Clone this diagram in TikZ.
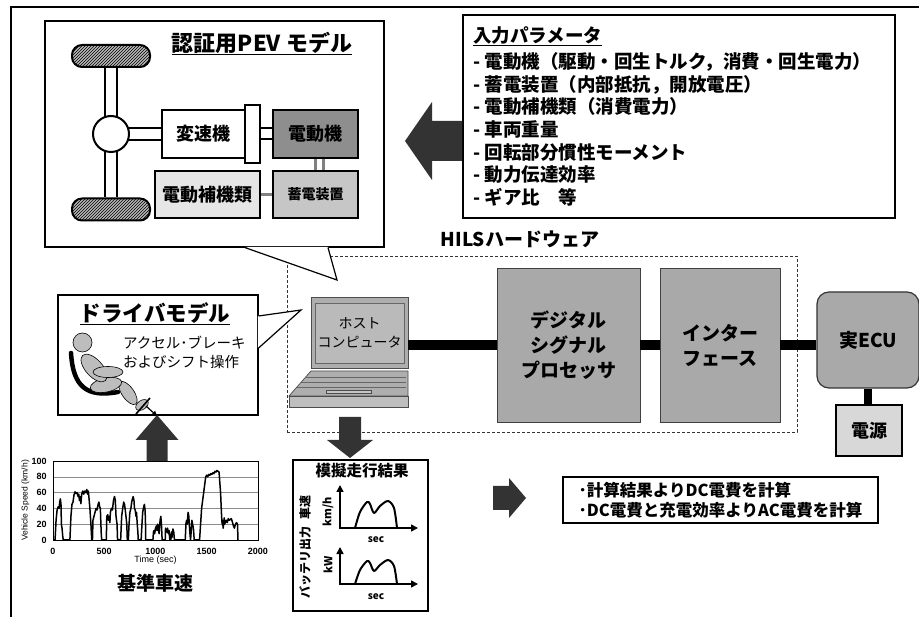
\documentclass[tikz,border=0pt]{standalone}
\usepackage{fontspec}
\setmainfont{Noto Sans CJK JP}
\newfontfamily\arialfont{Liberation Sans}
\usetikzlibrary{positioning,patterns,arrows.meta,calc}

\definecolor{hwgray}{HTML}{A9A9A9}
\definecolor{motorgray}{HTML}{8E8E8E}
\definecolor{battgray}{HTML}{C6C6C6}
\definecolor{auxgray}{HTML}{E6E6E6}
\definecolor{srcgray}{HTML}{D8D8D8}
\definecolor{pcgray}{HTML}{AEAEAE}
\definecolor{bodygray}{HTML}{BDBDBD}

\newcommand\fsz[2]{\fontsize{#1}{#2}\selectfont}
% block arrow: tip, direction, length, head width, shaft width, head length
\newcommand\bigarrow[6]{%
  \fill[black!80, shift={(#1)}, rotate=#2]
    (0,0) -- (-#6,0.5*#4) -- (-#6,0.5*#5) -- (-#3,0.5*#5) -- (-#3,-0.5*#5)
    -- (-#6,-0.5*#5) -- (-#6,-0.5*#4) -- cycle;}

\tikzset{
  panel/.style      = {rectangle, draw=black, line width=1.2pt, fill=white, inner sep=0pt},
  part/.style       = {rectangle, draw=black, line width=2.4pt, inner sep=0pt,
                       font=\fsz{18}{21}\bfseries},
  hw/.style         = {rectangle, draw=black!75, line width=0.8pt, fill=hwgray,
                       align=center, inner sep=0pt, font=\fsz{19}{25}\bfseries},
  wheel/.style      = {rectangle, rounded corners=10pt, draw=black, line width=2pt,
                       fill=gray!55, postaction={pattern=north east lines},
                       minimum width=78pt, minimum height=22pt, inner sep=0pt},
  shaft/.style      = {draw=black, line width=2pt},
  bus/.style        = {line width=10pt, black},
  limb/.style       = {draw=black, line width=0.6pt, fill=bodygray},
  axisline/.style   = {line width=1.6pt,
                       {Triangle[length=7pt,width=7pt]}-{Triangle[length=7pt,width=7pt]}},
  curve/.style      = {line width=2pt, line join=round},
  tick/.style       = {font=\arialfont\fsz{9}{10}\bfseries, inner sep=0pt},
}

\begin{document}
\begin{tikzpicture}[x=1pt, y=-1pt]
  \useasboundingbox (0,0) rectangle (919,617);
  \draw[line width=1.5pt] (919,7) -- (11,7) -- (11,617);

  % HILS group first, the callout tails lie over it
  \node[rectangle, draw=black!80, line width=0.9pt, dash pattern=on 3pt off 2pt,
        minimum width=510pt, minimum height=176pt] (hils) at (542,344) {};
  \node[font=\fsz{19}{21}\bfseries, inner sep=0pt] (hilstitle) at (520,239) {HILSハードウェア};

  % ---- PEV model callout ----
  \node[panel, minimum width=339pt, minimum height=226pt] (pev) at (214.5,134) {};
  \coordinate (pevtip) at (337,280);
  \path ([xshift=30.5pt]pev.south) coordinate (pevA) ([xshift=113.5pt]pev.south) coordinate (pevB);
  \fill[white] ([yshift=0.8pt]pevA) -- (pevtip) -- ([yshift=0.8pt]pevB) -- cycle;
  \draw[line width=1.2pt] (pevA) -- (pevtip) -- (pevB);

  \node[font=\fsz{22}{24}\bfseries, inner sep=0pt] (pevtitle) at (262,43) {認証用PEV モデル};
  \draw[line width=1.3pt] ([yshift=-3pt]pevtitle.base west) -- ([yshift=-3pt]pevtitle.base east);

  \node[wheel] (wheelF) at (111,56) {};
  \node[wheel] (wheelR) at (111,209.5) {};
  \node[circle, draw=black, line width=2pt, fill=white, minimum size=36pt,
        inner sep=0pt, outer sep=0pt] (diff) at (111,134) {};

  \node[part, fill=white, minimum width=83pt, minimum height=48pt] (trans) at (203.5,134) {変速機};
  \node[part, fill=white, line width=2pt, minimum width=15pt, minimum height=58pt] (clutch) at (252.5,134) {};
  \node[part, fill=motorgray, minimum width=85pt, minimum height=48pt] (motor) at (315.5,134) {電動機};
  \node[part, fill=auxgray, minimum width=105pt, minimum height=47pt] (aux) at (207.5,194.5) {電動補機類};
  \node[part, fill=battgray, minimum width=85pt, minimum height=47pt,
        font=\fsz{14}{16}\bfseries] (batt) at (315.5,194.5) {蓄電装置};

  % axles and shafts
  \draw[shaft] (diff.111 |- wheelF.south) -- (diff.111);
  \draw[shaft] (diff.69 |- wheelF.south) -- (diff.69);
  \draw[shaft] (diff.249) -- (diff.249 |- wheelR.north);
  \draw[shaft] (diff.291) -- (diff.291 |- wheelR.north);
  \draw[shaft] (diff.18) -- (diff.18 -| trans.west);
  \draw[shaft] (diff.-18) -- (diff.-18 -| trans.west);
  \draw[shaft] ([yshift=5.5pt]clutch.east) -- ([yshift=5.5pt]motor.west);
  \draw[shaft] ([yshift=-5.5pt]clutch.east) -- ([yshift=-5.5pt]motor.west);
  % electric links
  \draw[gray, line width=3pt] (aux.east) -- (batt.west);
  \draw[gray, line width=3pt] ([xshift=-0.5pt]motor.south) -- ([xshift=-0.5pt]batt.north);
  \draw[gray, line width=3pt] ([xshift=7.5pt]motor.south) -- ([xshift=7.5pt]batt.north);

  % ---- input parameters ----
  \node[panel, minimum width=432pt, minimum height=203pt] (param) at (679,116.5) {};
  \node[anchor=north west, inner sep=0pt, align=left, font=\fsz{18.5}{22.6}\bfseries] (paramtext) at (473,26)
    {\underline{入力パラメータ}\\[4pt]
     - 電動機（駆動・回生トルク，消費・回生電力）\\
     - 蓄電装置（内部抵抗，開放電圧）\\
     - 電動補機類（消費電力）\\
     - 車両重量\\
     - 回転部分慣性モーメント\\
     - 動力伝達効率\\
     - ギア比　等};
  \coordinate (paramarrow) at (405,141);
  \bigarrow{paramarrow}{180}{57}{78}{40}{27}

  % ---- driver model callout ----
  \node[panel, minimum width=200pt, minimum height=120pt] (driver) at (158,355) {};
  \coordinate (drvtip) at (301,310);
  \path ([yshift=39pt]driver.east) coordinate (drvA) ([yshift=7pt]driver.east) coordinate (drvB);
  \fill[white] ([xshift=-0.8pt]drvA) -- (drvtip) -- ([xshift=-0.8pt]drvB) -- cycle;
  \draw[line width=1.2pt] (drvA) -- (drvtip) -- (drvB);
  \node[font=\fsz{21.5}{23}\bfseries, inner sep=0pt] (drvtitle) at (155,313) {ドライバモデル};
  \draw[line width=1.3pt] ([yshift=-3pt]drvtitle.base west) -- ([yshift=-3pt]drvtitle.base east);
  \node[anchor=west, align=left, inner sep=0pt, font=\fsz{14.5}{19}] (drvtext) at (123,352)
    {アクセル･ブレーキ\\およびシフト操作};

  % seated driver
  \draw[line width=4.5pt, line cap=round] (71,353) .. controls (73,386) and (86,398) .. (118,392);
  \draw[limb] (128,393) ellipse [x radius=13.5, y radius=6, rotate=-55];
  \draw[limb] (142,405) ellipse [x radius=7, y radius=4.5, rotate=35];
  \draw[limb] (106,385) ellipse [x radius=16, y radius=7, rotate=12];
  \draw[limb] (94,368) ellipse [x radius=17, y radius=8.5, rotate=-48];
  \draw[limb] (108,372) ellipse [x radius=15, y radius=5.5];
  \draw[limb] (82.5,342.5) circle [radius=9.5];
  \draw[line width=1.6pt] (136,414) -- (150,398);
  \draw[line width=1.2pt, -{Triangle[length=5pt,width=5pt]}] (146,406) -- (157,416);

  % ---- host computer ----
  \fill[pcgray, draw=black!70, line width=0.7pt] (311,371) -- (408,371) -- (408,396) -- (289,396) -- cycle;
  \draw[fill=pcgray!80!white, draw=black!70, line width=0.7pt] (289,396) rectangle (408,407);
  \foreach \yy in {377,382,387}
    \draw[black!60, line width=0.6pt] ({311-22*(\yy-371)/25},\yy) -- (406,\yy);
  \draw[black!70, fill=pcgray!70!white, line width=0.6pt] (326,390) rectangle (371,393.5);
  \node[rectangle, draw=black!70, line width=0.8pt, fill=pcgray,
        minimum width=97pt, minimum height=71pt] (host) at (359.5,332.5) {};
  \node[rectangle, draw=black!60, line width=0.6pt, fill=pcgray!85!white, minimum width=89pt,
        minimum height=60pt, align=center, inner sep=0pt, font=\fsz{14}{19}] (hostscreen)
        at (359.5,333) {ホスト\\コンピュータ};

  % ---- HILS hardware ----
  \node[hw, minimum width=143pt, minimum height=154pt] (dsp) at (568.5,345) {デジタル\\シグナル\\プロセッサ};
  \node[hw, minimum width=120pt, minimum height=154pt] (iface) at (720,345) {インター\\フェース};
  \node[hw, rounded corners=12pt, draw=black!80, line width=1.2pt,
        minimum width=102pt, minimum height=96pt] (ecu) at (868,340) {実ECU};
  \node[rectangle, draw=black, line width=2.6pt, fill=srcgray, minimum width=66pt,
        minimum height=51pt, font=\fsz{18}{20}\bfseries] (power) at (869,430.5) {電源};
  \draw[bus] (dsp.west -| host.east) -- (dsp.west);
  \draw[bus] (dsp.east) -- (iface.west);
  \draw[bus] (iface.east) -- (iface.east -| ecu.west);
  \draw[line width=8pt] (ecu.south) -- (ecu.south |- power.north);

  \coordinate (hostarrow) at (350,458);
  \bigarrow{hostarrow}{270}{41}{46}{22}{18}

  % ---- reference drive cycle ----
  \coordinate (cyclearrow) at (157,415);
  \bigarrow{cyclearrow}{90}{46}{43}{21}{25}
  \begin{scope}[shift={(53,540)}, x=0.1025pt, y=0.79pt]
    \foreach \v in {20,40,...,100}
      \draw[black!45, line width=0.5pt] (0,\v) -- (2000,\v);
    \draw[line width=0.8pt] (0,0) rectangle (2000,100);
    \foreach \v in {0,20,...,100}
      \node[tick, anchor=east] (ylab\v) at (-60,\v) {\v};
    \foreach \t in {0,500,...,2000}
      \node[tick] (xlab\t) at (\t,-15) {\t};
    \node[font=\arialfont\fsz{9}{10}, inner sep=0pt] (xname) at (1000,-26) {Time (sec)};
    \node[font=\arialfont\fsz{8.5}{9}, inner sep=0pt, rotate=90] (yname) at (-270,50) {Vehicle Speed (km/h)};
    \draw[line width=1.5pt, line join=round] plot coordinates {
      (0,0)(20,0)(30,25)(40,38)(50,42)(60,40)(65,48)(72,52)(78,45)(82,20)(88,15)(95,5)(100,0)
      (165,0)(175,30)(185,45)(195,48)(205,57)(215,61)(225,59)(235,60)(245,55)(252,58)(258,50)
      (265,55)(272,46)(280,58)(290,62)(300,58)(310,62)(320,60)(330,64)(338,58)(345,62)(352,52)
      (360,40)(370,20)(378,0)(385,0)(390,25)(400,30)(410,35)(420,40)(430,38)(440,45)(448,48)
      (455,42)(462,40)(470,10)(475,0)(520,0)(525,30)(535,32)(540,25)(550,30)(555,22)(560,35)
      (570,40)(580,38)(590,50)(600,55)(608,50)(615,30)(625,20)(630,0)(660,0)(670,30)(680,40)
      (690,48)(698,45)(705,38)(712,30)(720,20)(725,0)(735,0)(742,20)(750,35)(760,40)(768,48)
      (775,52)(782,55)(790,50)(795,40)(802,38)(810,30)(815,35)(822,20)(828,10)(832,0)(860,0)
      (868,20)(875,35)(885,42)(892,45)(898,38)(902,25)(905,0)(975,0)(980,10)(985,12)(992,8)
      (1000,15)(1010,18)(1015,12)(1022,20)(1028,15)(1035,8)(1045,25)(1052,30)(1058,20)(1065,0)
      (1095,0)(1098,15)(1105,12)(1112,10)(1118,15)(1125,8)(1132,12)(1140,0)(1150,0)(1155,10)
      (1160,3)(1170,14)(1178,10)(1185,0)(1290,0)(1298,22)(1305,25)(1310,20)(1318,35)(1325,30)
      (1330,20)(1335,10)(1342,0)(1348,10)(1355,25)(1362,20)(1370,15)(1378,0)(1430,0)(1440,20)
      (1450,40)(1465,55)(1480,70)(1490,80)(1500,82)(1510,80)(1520,83)(1530,82)(1540,84)(1550,83)
      (1560,85)(1570,84)(1580,87)(1590,86)(1600,88)(1610,87)(1620,86)(1635,60)(1645,30)(1650,20)
      (1655,25)(1660,15)(1665,20)(1670,28)(1675,20)(1680,22)(1690,25)(1700,22)(1710,27)(1720,25)
      (1730,26)(1740,27)(1750,23)(1760,18)(1770,15)(1780,20)(1790,22)(1800,20)(1805,0)};
    \node[font=\fsz{19}{21}\bfseries, inner sep=0pt] (cyclename) at (1000,-55) {基準車速};
  \end{scope}

  % ---- simulated run results ----
  \node[panel, minimum width=135pt, minimum height=151pt] (result) at (360.5,535.5) {};
  \node[font=\fsz{15.5}{18}\bfseries, inner sep=0pt] (resulttitle) at (362,471) {模擬走行結果};
  \begin{scope}[shift={(340,528)}]
    \draw[axisline] (0,-43) -- (0,0) -- (78,0);
    \draw[curve] plot[smooth] coordinates {(15,0) (20,-16) (27,-26) (30,-24) (34,-15) (40,-22) (48,-27) (54,-20) (57,0)};
    \node[font=\fsz{10}{12}\bfseries, inner sep=0pt] (secA) at (36,12) {sec};
    \node[font=\fsz{11}{12}\bfseries, inner sep=0pt, rotate=90] (unitA) at (-12,-16) {km/h};
    \node[font=\fsz{12}{13}\bfseries, inner sep=0pt, rotate=90] (nameA) at (-35,-21) {車速};
  \end{scope}
  \begin{scope}[shift={(340,584)}]
    \draw[axisline] (0,-37) -- (0,0) -- (78,0);
    \draw[curve] plot[smooth] coordinates {(15,0) (20,-14) (27,-23) (30,-21) (34,-13) (40,-19) (48,-24) (54,-18) (57,0)};
    \node[font=\fsz{10}{12}\bfseries, inner sep=0pt] (secB) at (36,13) {sec};
    \node[font=\fsz{11}{12}\bfseries, inner sep=0pt, rotate=90] (unitB) at (-12,-19) {kW};
    \node[font=\fsz{12}{13}\bfseries, inner sep=0pt, rotate=90] (nameB) at (-35,-22) {バッテリ出力};
  \end{scope}

  % ---- energy consumption calculation ----
  \coordinate (calcarrow) at (526,498);
  \bigarrow{calcarrow}{0}{33}{40}{24}{17}
  \node[panel, minimum width=315pt, minimum height=46pt, align=left,
        font=\fsz{16.5}{20}\bfseries] (calc) at (720.5,500)
    {･計算結果よりDC電費を計算\\･DC電費と充電効率よりAC電費を計算};
\end{tikzpicture}
\end{document}
